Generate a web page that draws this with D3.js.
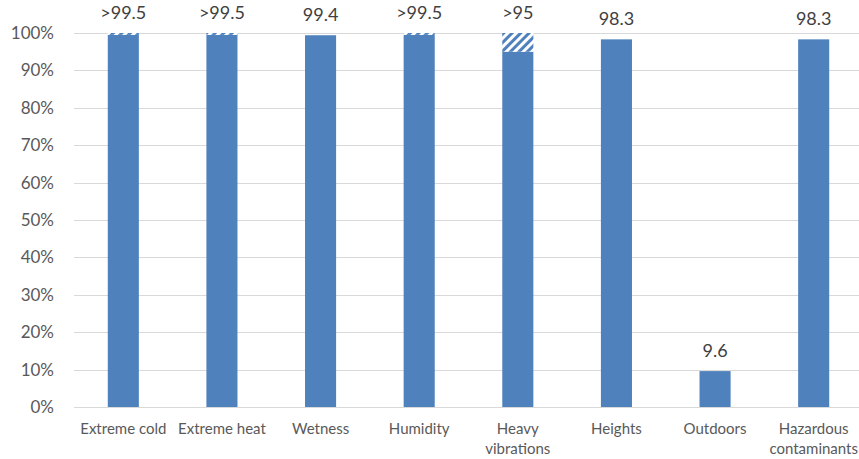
<!DOCTYPE html>
<html>
<head>
<meta charset="utf-8">
<script src="https://cdn.jsdelivr.net/npm/d3@7"></script>
<style>
body{margin:0;background:#fff;}
svg text{font-family:Lato,"Open Sans",sans-serif;}
</style>
</head>
<body>
<svg id="c" width="859" height="459"></svg>
<script>
const categories = [["Extreme cold"],["Extreme heat"],["Wetness"],["Humidity"],["Heavy","vibrations"],["Heights"],["Outdoors"],["Hazardous","contaminants"]];
const solidValues = [99.5, 99.5, 99.4, 99.5, 95, 98.3, 9.6, 98.3];
const hatchedValues = [0.5, 0.5, 0, 0.5, 5, 0, 0, 0];
const valueLabels = [">99.5", ">99.5", "99.4", ">99.5", ">95", "98.3", "9.6", "98.3"];
const yTicks = [0,10,20,30,40,50,60,70,80,90,100];

(function(){
const svg = d3.select("#c");
const pLeft = 74, pRight = 863, pTop = 33, pBottom = 407;
const x = d3.scaleBand().domain(d3.range(categories.length)).range([pLeft, pRight]).paddingInner(0.685).paddingOuter(0.3425);
const y = d3.scaleLinear().domain([0,100]).range([pBottom, pTop]);

const defs = svg.append("defs");
const pat = defs.append("pattern").attr("id","hatch").attr("patternUnits","userSpaceOnUse")
  .attr("width",6).attr("height",6).attr("patternTransform","rotate(45)");
pat.append("rect").attr("width",6).attr("height",6).attr("fill","#fff");
pat.append("rect").attr("width",3).attr("height",6).attr("fill","#4f81bd");

svg.append("g").selectAll("line").data(yTicks).join("line")
  .attr("x1",pLeft).attr("x2",859).attr("y1",d=>Math.round(y(d))+0.5).attr("y2",d=>Math.round(y(d))+0.5)
  .attr("stroke","#d9d9d9").attr("stroke-width",1);

const yAxis = d3.axisLeft(y).tickValues(yTicks).tickFormat(d=>d+"%").tickSize(0).tickPadding(0);
const ga = svg.append("g").attr("transform","translate(54,0)").call(yAxis);
ga.select(".domain").remove();
ga.selectAll("text").attr("fill","#595959").style("font-size","17px").style("font-family","Lato,'Open Sans',sans-serif");

const idx = d3.range(categories.length);
svg.append("g").selectAll("rect").data(idx).join("rect")
  .attr("x",i=>x(i)).attr("width",x.bandwidth())
  .attr("y",i=>y(solidValues[i])).attr("height",i=>y(0)-y(solidValues[i]))
  .attr("fill","#4f81bd");
svg.append("g").selectAll("rect").data(idx.filter(i=>hatchedValues[i]>0)).join("rect")
  .attr("x",i=>x(i)).attr("width",x.bandwidth())
  .attr("y",i=>y(solidValues[i]+hatchedValues[i])).attr("height",i=>y(solidValues[i])-y(solidValues[i]+hatchedValues[i]))
  .attr("fill","url(#hatch)");

svg.append("g").selectAll("text").data(idx).join("text")
  .attr("x",i=>x(i)+x.bandwidth()/2)
  .attr("y",i=>y(solidValues[i]+hatchedValues[i])-14)
  .attr("text-anchor","middle").attr("fill","#404040").style("font-size","18px")
  .text(i=>valueLabels[i]);

const cg = svg.append("g").selectAll("text").data(idx).join("text")
  .attr("x",i=>x(i)+x.bandwidth()/2).attr("y",434)
  .attr("text-anchor","middle").attr("fill","#595959").style("font-size","15px");
cg.each(function(i){
  const t=d3.select(this);
  categories[i].forEach((s,k)=>t.append("tspan").attr("x",x(i)+x.bandwidth()/2).attr("dy",k===0?0:20).text(s));
});
})();
</script>
</body>
</html>
